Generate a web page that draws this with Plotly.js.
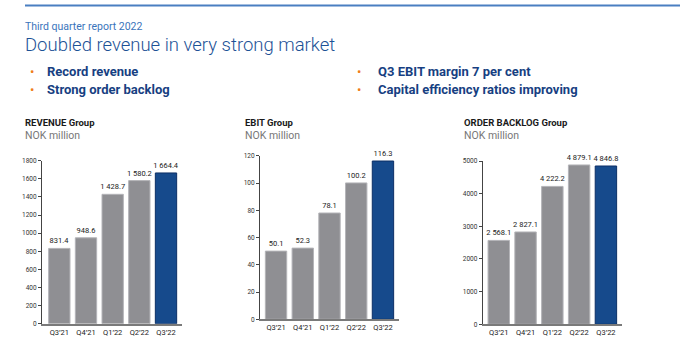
<!DOCTYPE html>
<html>
<head>
<meta charset="utf-8">
<script src="https://cdn.plot.ly/plotly-3.0.1.min.js"></script>
<style>html,body{margin:0;padding:0;background:#fff;}#chart{width:690px;height:359px;}</style>
</head>
<body>
<div id="chart"></div>
<script>
// ---- Data ----
const quarters = ["Q3\u201921", "Q4\u201921", "Q1\u201922", "Q2\u201922", "Q3\u201922"];
const revenue = [831.4, 948.6, 1428.7, 1580.2, 1664.4];
const ebit = [50.1, 52.3, 78.1, 100.2, 116.3];
const backlog = [2568.1, 2827.1, 4222.2, 4879.1, 4846.8];

const chartTitles = ["REVENUE Group", "EBIT Group", "ORDER BACKLOG Group"];
const unitLabel = "NOK million";
const reportLabel = "Third quarter report 2022";
const headline = "Doubled revenue in very strong market";
const bulletsLeft = ["Record revenue", "Strong order backlog"];
const bulletsRight = ["Q3 EBIT margin 7 per cent", "Capital efficiency ratios improving"];

// ---- Styling ----
const GRAY = "#8f8f93", GRAY_EDGE = "#b4b4b8";
const BLUE = "#164a8c", BLUE_EDGE = "#0c2f66";
const colors = quarters.map((q, i) => i === quarters.length - 1 ? BLUE : GRAY);
const edges = quarters.map((q, i) => i === quarters.length - 1 ? BLUE_EDGE : GRAY_EDGE);
const FONT = "Roboto, 'Liberation Sans', Arial, sans-serif";

function barTrace(vals, xa, ya) {
  return {
    type: "bar", x: quarters, y: vals, xaxis: xa, yaxis: ya,
    marker: { color: colors, line: { color: edges, width: 1 } },
    width: 0.8,
    text: vals, texttemplate: "%{y:,.1f}", textposition: "outside",
    constraintext: "none",
    textfont: { family: FONT, size: 7.5, color: "#222" },
    cliponaxis: false, hoverinfo: "skip", showlegend: false
  };
}

const data = [
  barTrace(revenue, "x", "y"),
  barTrace(ebit, "x2", "y2"),
  barTrace(backlog, "x3", "y3")
];

function xAx(domain, range, anchor) {
  return {
    domain: domain, range: range, type: "category", anchor: anchor,
    showline: true, linecolor: "#7a7a7a", linewidth: 2,
    ticks: "", showgrid: false, zeroline: false, fixedrange: true,
    tickfont: { family: FONT, size: 7.5, color: "#222" }
  };
}
function yAx(domain, range, dtick, anchor) {
  return {
    domain: domain, range: range, dtick: dtick, tick0: 0, anchor: anchor,
    showline: true, linecolor: "#444", linewidth: 1,
    ticks: "outside", ticklen: 3, tickcolor: "#444", tickwidth: 1,
    showgrid: false, zeroline: false, fixedrange: true,
    tickfont: { family: FONT, size: 6.5, color: "#333" }
  };
}

const W = 690, H = 359;
const px = v => v / W;
const py = v => 1 - v / H;

const annotations = [];
function txt(text, x, y, size, color, weight) {
  annotations.push({
    text: text, xref: "paper", yref: "paper", x: px(x), y: py(y),
    xanchor: "left", yanchor: "middle", showarrow: false, borderpad: 0,
    font: { family: FONT, size: size, color: color, weight: weight || 400 }
  });
}
txt(reportLabel, 24, 27, 10.5, "#3a74bb");
txt(headline, 24, 45, 18.5, "#1d5296", 300);
bulletsLeft.forEach((b, i) => {
  txt("\u2022", 29, 72 + i * 17.5, 13, "#f07d1a");
  txt(b, 46, 72 + i * 17.5, 13, "#173f82", 700);
});
bulletsRight.forEach((b, i) => {
  txt("\u2022", 356, 72 + i * 17.5, 13, "#f07d1a");
  txt(b, 377, 72 + i * 17.5, 13, "#173f82", 700);
});
const titleX = [24, 244, 463];
chartTitles.forEach((t, i) => {
  txt(t, titleX[i], 123, 9.5, "#1a1a1a", 700);
  txt(unitLabel, titleX[i], 135, 10.5, "#777");
});

const layout = {
  width: W, height: H,
  margin: { l: 0, r: 0, t: 0, b: 0, pad: 0 },
  paper_bgcolor: "#fff", plot_bgcolor: "rgba(0,0,0,0)",
  separators: ". ",
  bargap: 0.2,
  font: { family: FONT },
  xaxis: xAx([px(42), px(182)], [-0.65, 4.6], "y"),
  yaxis: yAx([0.0983, 0.5524], [0, 1800], 200, "x"),
  xaxis2: xAx([px(260), px(399)], [-0.6, 4.6], "y2"),
  yaxis2: yAx([0.1106, 0.5655], [0, 120], 20, "x2"),
  xaxis3: xAx([px(482.7), px(622)], [-0.6, 4.6], "y3"),
  yaxis3: yAx([0.0967, 0.5515], [0, 5000], 1000, "x3"),
  shapes: [{
    type: "line", xref: "paper", yref: "paper",
    x0: px(25), x1: px(680), y0: py(5.5), y1: py(5.5),
    line: { color: "#4a7fc1", width: 2 }
  }],
  annotations: annotations
};

Plotly.newPlot("chart", data, layout, { displayModeBar: false, staticPlot: true });
</script>
</body>
</html>
